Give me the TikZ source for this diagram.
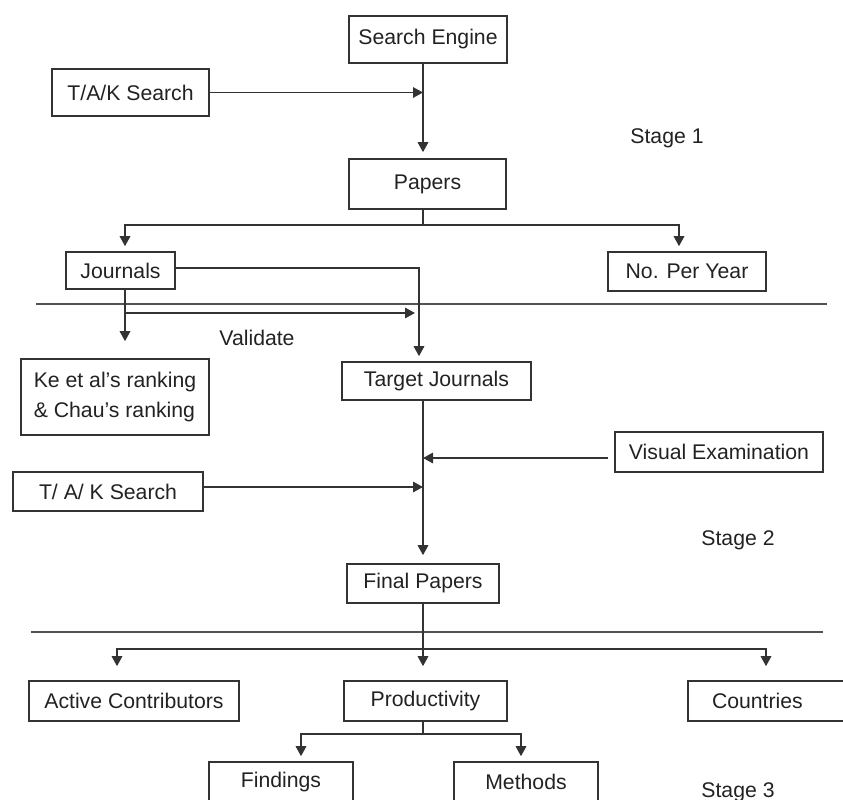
\documentclass[tikz,border=0pt]{standalone}
\usepackage{fontspec}
\setmainfont{Liberation Sans}
\usetikzlibrary{arrows.meta}
\definecolor{gris}{HTML}{333333}
\definecolor{texto}{HTML}{222222}

\begin{document}
\begin{tikzpicture}[x=1bp, y=-1bp,
    caja/.style={draw=gris, line width=1.6bp, inner sep=0pt, text=texto, font=\fontsize{21.3}{30}\selectfont},
    etiqueta/.style={text=texto, font=\fontsize{21.3}{30}\selectfont},
    conector/.style={draw=gris, line width=1.6bp},
    flecha/.style={conector, -{Triangle[length=10bp, width=10.5bp]}},
    separador/.style={draw=gris!85, line width=1.4bp}]
    \useasboundingbox (0,0) rectangle (843,800);

    % Eje central
    \coordinate (eje) at (423,0);

    % Etapa 1
    \node[caja, minimum width=158bp, minimum height=47bp] (motor) at (428,39.5) {Search Engine};
    \node[caja, minimum width=157bp, minimum height=47bp] (busqueda) at (130.5,92.5) {T/A/K Search};
    \node[caja, minimum width=157bp, minimum height=50bp] (papeles) at (427.5,184) {Papers};
    \node[caja, minimum width=109bp, minimum height=37bp] (revistas) at (120.5,270.5) {Journals};
    \node[caja, minimum width=158bp, minimum height=39bp] (anual) at (687,271.5) {No. Per Year};
    \node[etiqueta] (etapa1) at (667,138) {Stage 1};

    % Etapa 2
    \node[caja, minimum width=188bp, minimum height=76bp, align=left] (ranking) at (115,397) {Ke et al’s ranking\\\& Chau’s ranking};
    \node[caja, minimum width=189bp, minimum height=38bp] (objetivo) at (436.5,381) {Target Journals};
    \node[caja, minimum width=208bp, minimum height=40bp] (visual) at (719,452) {Visual Examination};
    \node[caja, minimum width=190bp, minimum height=39bp] (busqueda2) at (108,491.5) {T/ A/ K Search};
    \node[caja, minimum width=152bp, minimum height=39bp] (finales) at (423,583.5) {Final Papers};
    \node[etiqueta] (validar) at (257,338) {Validate};
    \node[etiqueta] (etapa2) at (738,540) {Stage 2};

    % Etapa 3
    \node[caja, minimum width=210bp, minimum height=40bp] (activos) at (134,701) {Active Contributors};
    \node[caja, minimum width=163bp, minimum height=40bp] (productividad) at (425.5,701) {Productivity};
    \node[caja, minimum height=40bp, text width=114bp, align=left, inner xsep=24bp] (paises) at (769,701) {Countries};
    \node[caja, minimum width=144bp, minimum height=40bp] (hallazgos) at (281,782) {Findings};
    \node[caja, minimum width=144bp, minimum height=40bp] (metodos) at (526,782) {Methods};
    \node[etiqueta] (etapa3) at (738,792) {Stage 3};

    % Separadores
    \draw[separador] (36,304) -- (827,304);
    \draw[separador] (31,632) -- (823,632);

    % Flechas etapa 1
    \draw[flecha] (busqueda.east) -- (busqueda.east -| eje);
    \draw[flecha, shorten >=6bp] (motor.south -| eje) -- (papeles.north -| eje);
    \coordinate (r1) at (423,225);
    \draw[conector] (papeles.south -| eje) -- (r1);
    \draw[flecha, shorten >=5bp] (r1) -| ([xshift=4.5bp]revistas.north);
    \draw[flecha, shorten >=5bp] (r1) -| ([xshift=-8bp]anual.north);

    % Flechas etapa 2
    \draw[flecha, shorten >=5bp] ([yshift=2.5bp]revistas.east) -| ([xshift=-17.5bp]objetivo.north);
    \draw[flecha, shorten >=17bp] ([xshift=4.5bp]revistas.south) -- ([xshift=10bp]ranking.north);
    \coordinate (v1) at (125,313);
    \coordinate (v2) at (415,313);
    \draw[flecha] (v1) -- (v2);
    \draw[flecha, shorten >=8bp] (objetivo.south -| eje) -- (finales.north -| eje);
    \draw[flecha, shorten <=6bp] ([yshift=-6bp]visual.west) -- ([yshift=-6bp]visual.west -| eje);
    \draw[flecha] ([yshift=4.5bp]busqueda2.east) -- ([yshift=4.5bp]busqueda2.east -| eje);

    % Flechas etapa 3
    \coordinate (r2) at (423,649);
    \draw[flecha, shorten >=14bp] (finales.south -| eje) -- (productividad.north -| eje);
    \draw[flecha, shorten >=14bp] (r2) -| ([xshift=-17bp]activos.north);
    \draw[flecha, shorten >=14bp] (r2) -| ([xshift=-3bp]paises.north);
    \coordinate (r3) at (423,734);
    \draw[conector] (productividad.south -| eje) -- (r3);
    \draw[flecha, shorten >=5bp] (r3) -| ([xshift=20bp]hallazgos.north);
    \draw[flecha, shorten >=5bp] (r3) -| ([xshift=-5bp]metodos.north);
\end{tikzpicture}
\end{document}
